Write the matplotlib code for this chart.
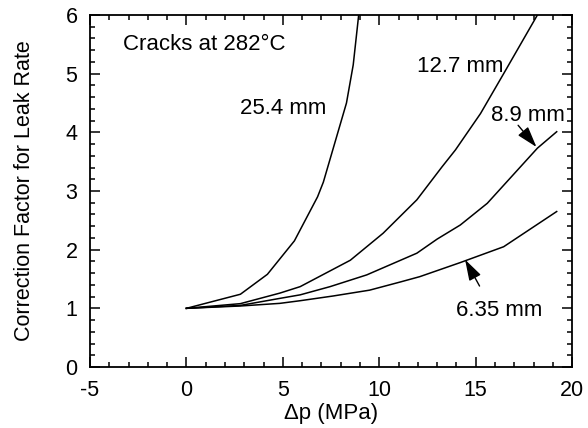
import matplotlib
matplotlib.use('Agg')
import matplotlib.pyplot as plt
from matplotlib.ticker import MultipleLocator

plt.rcParams['font.family'] = ['Liberation Sans', 'DejaVu Sans']
plt.rcParams['axes.unicode_minus'] = False

# ---- data (dp in MPa, correction factor) ----
x_254 = [0, 2.8, 4.2, 5.6, 6.8, 7.1, 8.3, 8.65, 8.95]
y_254 = [1.0, 1.24, 1.58, 2.15, 2.9, 3.15, 4.5, 5.15, 6.05]

x_127 = [0, 2.8, 4.85, 5.9, 8.5, 10.2, 11.95, 13.25, 13.95, 15.25, 16.45, 18.2]
y_127 = [1.0, 1.08, 1.26, 1.37, 1.82, 2.28, 2.85, 3.41, 3.70, 4.32, 5.0, 6.0]

x_89 = [0, 2.8, 4.85, 5.9, 7.45, 9.35, 11.95, 13.0, 14.2, 15.6, 18.2, 19.2]
y_89 = [1.0, 1.05, 1.17, 1.23, 1.37, 1.57, 1.94, 2.18, 2.42, 2.79, 3.73, 4.01]

x_635 = [0, 2.8, 4.85, 5.9, 7.6, 9.5, 11.1, 12.1, 14.2, 16.45, 19.2]
y_635 = [1.0, 1.04, 1.085, 1.13, 1.21, 1.31, 1.45, 1.54, 1.78, 2.05, 2.65]

fig, ax = plt.subplots(figsize=(5.88, 4.28), dpi=100)
fig.subplots_adjust(left=0.153, right=0.973, bottom=0.1425, top=0.965)

for xs, ys in [(x_254, y_254), (x_127, y_127), (x_89, y_89), (x_635, y_635)]:
    ax.plot(xs, ys, color='k', lw=1.1)

ax.set_xlim(-5, 20)
ax.set_ylim(0, 6)
ax.xaxis.set_major_locator(MultipleLocator(5))
ax.xaxis.set_minor_locator(MultipleLocator(1))
ax.yaxis.set_major_locator(MultipleLocator(1))
ax.yaxis.set_minor_locator(MultipleLocator(0.2))
ax.tick_params(which='both', direction='in', top=True, right=True, width=1.1)
ax.tick_params(which='major', length=7, labelsize=15.5)
ax.tick_params(axis='x', which='major', pad=9)
ax.tick_params(axis='y', which='major', pad=9)
ax.tick_params(which='minor', length=3.5)
for s in ax.spines.values():
    s.set_linewidth(1.3)

ax.set_xlabel('Δp (MPa)', fontsize=16, labelpad=2)
ax.set_ylabel('Correction Factor for Leak Rate', fontsize=15.5, labelpad=22)

# labels
ax.text(-3.27, 5.5, 'Cracks at 282°C', fontsize=16, va='center')
ax.text(2.78, 4.41, '25.4 mm', fontsize=16, va='center')
ax.text(11.95, 5.12, '12.7 mm', fontsize=16, va='center')
ax.text(15.8, 4.29, '8.9 mm', fontsize=16, va='center')
ax.text(14.0, 0.97, '6.35 mm', fontsize=16, va='center')

arrow = dict(arrowstyle='-|>,head_width=0.25,head_length=0.8', color='k', lw=1.0,
             shrinkA=0, shrinkB=0, mutation_scale=16)
ax.annotate('', xy=(18.15, 3.75), xytext=(17.2, 4.12), arrowprops=arrow)
ax.annotate('', xy=(14.45, 1.83), xytext=(15.2, 1.38), arrowprops=arrow)

fig.savefig('out.png', dpi=100)
